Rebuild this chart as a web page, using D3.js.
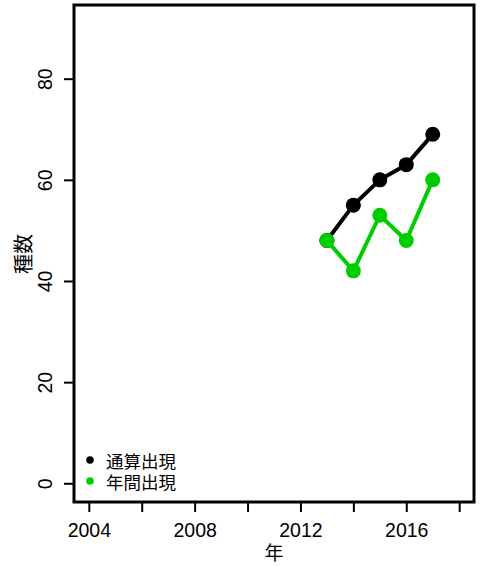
<!DOCTYPE html>
<html><head><meta charset="utf-8">
<script src="https://cdn.jsdelivr.net/npm/d3@7"></script>
<style>
html,body{margin:0;padding:0;background:#fff;}
svg{display:block;}
text{font-family:"Liberation Sans",Arial,sans-serif;fill:#000;}
.cjk{font-family:"Noto Sans CJK JP","Noto Sans CJK SC",sans-serif;}
</style></head>
<body>
<script>
const years = [2013, 2014, 2015, 2016, 2017];
const cumulative = [48, 55, 60, 63, 69];   // 通算出現
const annual = [48, 42, 53, 48, 60];       // 年間出現
const seriesNames = ["通算出現", "年間出現"];
const seriesColors = ["#000000", "#00CD00"];
const xTicks = [2004, 2006, 2008, 2010, 2012, 2014, 2016, 2018];
const xTickLabels = [2004, 2008, 2012, 2016];
const yTicks = [0, 20, 40, 60, 80];

const W = 485, H = 567;
const svg = d3.select("body").append("svg").attr("width", W).attr("height", H);

const x = d3.scaleLinear().domain([2003.44, 2018.56]).range([74, 474]);
const y = d3.scaleLinear().domain([-3.70, 94.57]).range([502, 5]);

// axes
const xAxis = d3.axisBottom(x).tickValues(xTicks).tickSize(10)
  .tickFormat(d => xTickLabels.includes(d) ? d : "");
const gx = svg.append("g").attr("transform", "translate(0,502)").call(xAxis);
gx.select(".domain").remove();
gx.selectAll(".tick line").attr("stroke", "#000").attr("stroke-width", 2);
gx.selectAll(".tick text").attr("font-size", 19.5).attr("y", 21).attr("dy", "0.71em");

const yAxis = d3.axisLeft(y).tickValues(yTicks).tickSize(10);
const gy = svg.append("g").attr("transform", "translate(74,0)").call(yAxis);
gy.select(".domain").remove();
gy.selectAll(".tick line").attr("stroke", "#000").attr("stroke-width", 2);
gy.selectAll(".tick text")
  .attr("font-size", 19.5)
  .attr("x", null).attr("dy", null)
  .attr("text-anchor", "middle")
  .attr("dominant-baseline", "central")
  .attr("transform", "translate(-29,0) rotate(-90)");

// box
svg.append("rect").attr("x", 74).attr("y", 5).attr("width", 400).attr("height", 497)
  .attr("fill", "none").attr("stroke", "#000").attr("stroke-width", 3);

// series
const series = [cumulative, annual];
const line = d3.line().x((d, i) => x(years[i])).y(d => y(d));
series.forEach((vals, k) => {
  svg.append("path").datum(vals).attr("d", line)
    .attr("fill", "none").attr("stroke", seriesColors[k]).attr("stroke-width", 4)
    .attr("stroke-linejoin", "round");
  svg.append("g").selectAll("circle").data(vals).join("circle")
    .attr("cx", (d, i) => x(years[i])).attr("cy", d => y(d)).attr("r", 7.5)
    .attr("fill", seriesColors[k]);
});

// legend
const lg = svg.append("g");
seriesNames.forEach((name, k) => {
  const cy = 460 + k * 21;
  lg.append("circle").attr("cx", 90).attr("cy", cy).attr("r", 3.8).attr("fill", seriesColors[k]);
  lg.append("text").attr("class", "cjk").attr("x", 106).attr("y", cy)
    .attr("dominant-baseline", "central").attr("font-size", 17.5).text(name);
});

// axis titles
svg.append("text").attr("class", "cjk").attr("x", 274).attr("y", 551)
  .attr("text-anchor", "middle").attr("dominant-baseline", "central")
  .attr("font-size", 19).text("年");
svg.append("text").attr("class", "cjk")
  .attr("transform", "translate(22,254) rotate(-90)")
  .attr("text-anchor", "middle").attr("dominant-baseline", "central")
  .attr("font-size", 20).text("種数");
</script>
</body></html>
